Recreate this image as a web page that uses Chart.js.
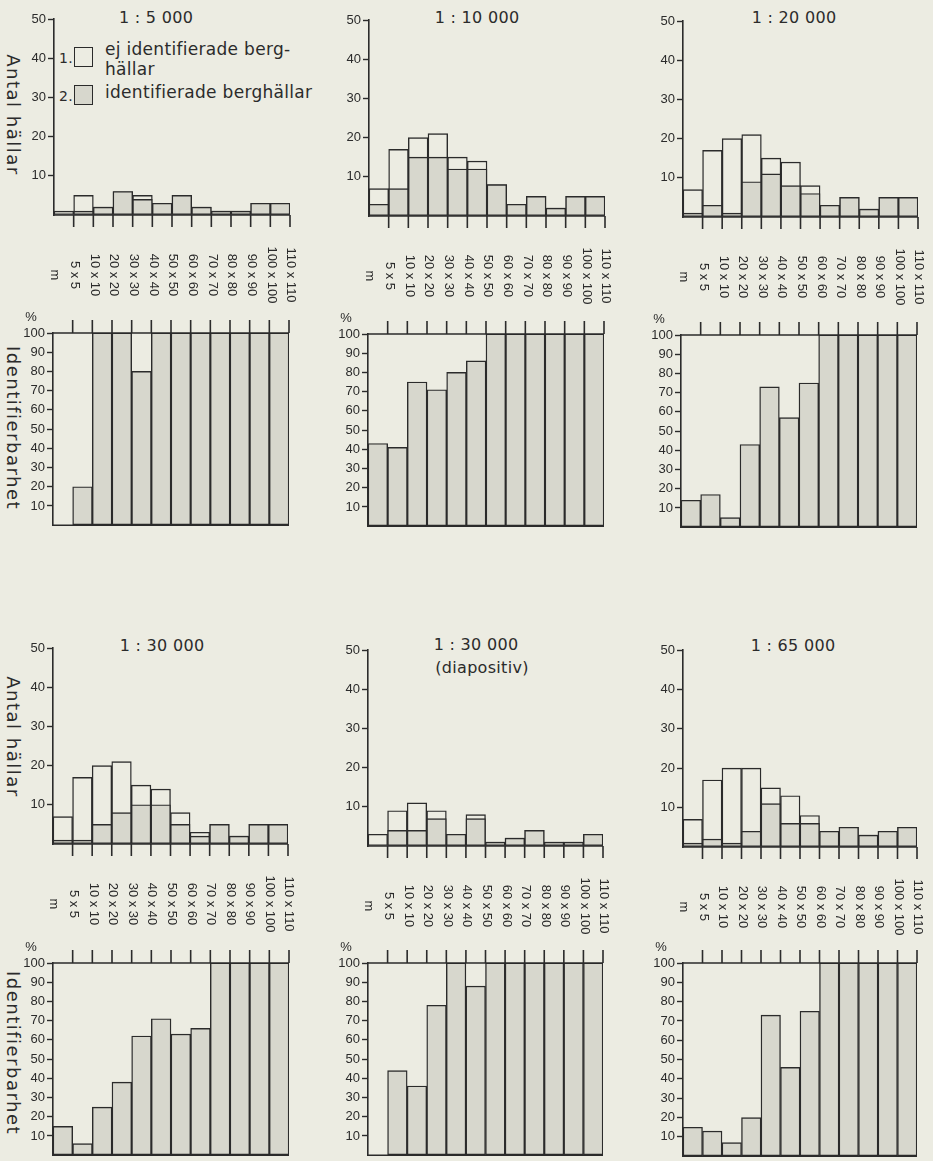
<!DOCTYPE html>
<html>
<head>
<meta charset="utf-8">
<script src="https://cdn.jsdelivr.net/npm/chart.js@4.4.0/dist/chart.umd.min.js"></script>
<style>
html,body{margin:0;padding:0;background:#ecece2;}
body{width:933px;height:1161px;position:relative;overflow:hidden;font-family:"DejaVu Sans",sans-serif;color:#2b2b2b;}
canvas{position:absolute;}
.t{position:absolute;white-space:nowrap;font-size:16px;line-height:1;transform:translate(-50%,-50%);letter-spacing:0.3px;}
.v{position:absolute;white-space:nowrap;writing-mode:vertical-rl;font-size:18px;line-height:1;letter-spacing:1.5px;transform:translate(-50%,-50%);}
.lg{position:absolute;white-space:nowrap;font-size:17px;line-height:1;letter-spacing:0.3px;}
.box{position:absolute;width:17px;height:18px;border:1.6px solid #2b2b2b;}
</style>
</head>
<body>
<div class="t" style="left:156px;top:18px">1 : 5 000</div>
<div class="t" style="left:477px;top:18px">1 : 10 000</div>
<div class="t" style="left:794px;top:18px">1 : 20 000</div>
<div class="t" style="left:162px;top:646px">1 : 30 000</div>
<div class="t" style="left:476px;top:645px">1 : 30 000</div>
<div class="t" style="left:482px;top:668px">(diapositiv)</div>
<div class="t" style="left:793px;top:646px">1 : 65 000</div>

<div class="v" style="left:13px;top:115px">Antal hällar</div>
<div class="v" style="left:13px;top:428px">Identifierbarhet</div>
<div class="v" style="left:13px;top:737px">Antal hällar</div>
<div class="v" style="left:13px;top:1053px">Identifierbarhet</div>

<div class="lg" style="left:59px;top:51px;font-size:14px">1.</div>
<div class="box" style="left:74px;top:47px;background:#ecece2"></div>
<div class="lg" style="left:105px;top:41px">ej identifierade berg-</div>
<div class="lg" style="left:105px;top:61px">hällar</div>
<div class="lg" style="left:59px;top:89px;font-size:14px">2.</div>
<div class="box" style="left:74px;top:85px;background:#d7d7cd"></div>
<div class="lg" style="left:105px;top:84px">identifierade berghällar</div>

<script>
// ---- data ----
const binLabels = ['<5','5-10','10-20','20-30','30-40','40-50','50-60','60-70','70-80','80-90','90-100','100-110'];
const boundaryLabels = ['m','5 x 5','10 x 10','20 x 20','30 x 30','40 x 40','50 x 50','60 x 60','70 x 70','80 x 80','90 x 90','100 x 100','110 x 110'];
const countMax = 50;
const pctMax = 100;

const total5000  = [1,5,2,6,5,3,5,2,1,1,3,3];
const ident5000  = [0,1,2,6,4,3,5,2,1,1,3,3];
const pct5000    = [0,20,100,100,80,100,100,100,100,100,100,100];

const total10000 = [7,17,20,21,15,14,8,3,5,2,5,5];
const ident10000 = [3,7,15,15,12,12,8,3,5,2,5,5];
const pct10000   = [43,41,75,71,80,86,100,100,100,100,100,100];

const total20000 = [7,17,20,21,15,14,8,3,5,2,5,5];
const ident20000 = [1,3,1,9,11,8,6,3,5,2,5,5];
const pct20000   = [14,17,5,43,73,57,75,100,100,100,100,100];

const total30000 = [7,17,20,21,15,14,8,3,5,2,5,5];
const ident30000 = [1,1,5,8,10,10,5,2,5,2,5,5];
const pct30000   = [15,6,25,38,62,71,63,66,100,100,100,100];

const total30000d = [3,9,11,9,3,8,1,2,4,1,1,3];
const ident30000d = [0,4,4,7,3,7,1,2,4,1,1,3];
const pct30000d   = [0,44,36,78,100,88,100,100,100,100,100,100];

const total65000 = [7,17,20,20,15,13,8,4,5,3,4,5];
const ident65000 = [1,2,1,4,11,6,6,4,5,3,4,5];
const pct65000   = [15,13,7,20,73,46,75,100,100,100,100,100];

// ---- style ----
const INK = '#2b2b2b', PAPER = '#ecece2', SHADE = '#d7d7cd';
const LW = 1.6;
const TICKFONT = {family: '"Liberation Sans", Arial, sans-serif', size: 13};

function boundaryX(xs, i) {
  const n = binLabels.length;
  const w = xs.getPixelForValue(1) - xs.getPixelForValue(0);
  return i < n ? xs.getPixelForValue(i) - w / 2 : xs.getPixelForValue(n - 1) + w / 2;
}

const countAxisPlugin = {
  id: 'countAxis',
  afterDatasetsDraw(chart) {
    const {ctx} = chart; const x = chart.scales.x, y = chart.scales.y;
    const y0 = y.getPixelForValue(0);
    ctx.save();
    ctx.strokeStyle = INK; ctx.lineWidth = LW;
    ctx.beginPath();
    ctx.moveTo(x.left, y0); ctx.lineTo(x.right, y0);
    for (let i = 1; i <= binLabels.length; i++) {
      const bx = boundaryX(x, i);
      ctx.moveTo(bx, y0); ctx.lineTo(bx, y0 + 12);
    }
    ctx.stroke();
    ctx.fillStyle = INK;
    ctx.font = '13px "Liberation Sans", Arial, sans-serif';
    ctx.textAlign = 'center'; ctx.textBaseline = 'middle';
    boundaryLabels.forEach((lab, i) => {
      const bx = boundaryX(x, i);
      ctx.save(); ctx.translate(bx + 1, y0 + 60); ctx.rotate(Math.PI / 2); ctx.fillText(lab, 0, 0); ctx.restore();
    });
    ctx.restore();
  }
};

const pctAxisPlugin = {
  id: 'pctAxis',
  afterDatasetsDraw(chart) {
    const {ctx} = chart; const x = chart.scales.x, y = chart.scales.y;
    const yTop = y.getPixelForValue(pctMax), y0 = y.getPixelForValue(0);
    ctx.save();
    ctx.strokeStyle = INK; ctx.lineWidth = LW;
    ctx.beginPath();
    ctx.moveTo(x.left, yTop); ctx.lineTo(x.right, yTop);
    ctx.moveTo(x.left, y0); ctx.lineTo(x.right, y0);
    for (let i = 1; i <= binLabels.length; i++) {
      const bx = boundaryX(x, i);
      ctx.moveTo(bx, yTop); ctx.lineTo(bx, yTop - 13);
    }
    ctx.stroke();
    ctx.fillStyle = INK;
    ctx.font = '13px "Liberation Sans", Arial, sans-serif';
    ctx.textAlign = 'center'; ctx.textBaseline = 'middle';
    ctx.fillText('%', x.left - 22, yTop - 16);
    ctx.restore();
  }
};

function barDs(label, data, fill) {
  return {label, data, backgroundColor: fill, borderColor: INK, borderWidth: 1.4,
          borderSkipped: false, grouped: false, barPercentage: 1, categoryPercentage: 1};
}

function makeChart(plot, pad, datasets, yMax, plugin) {
  const c = document.createElement('canvas');
  const W = Math.round(plot.r - plot.l + pad.l + pad.r);
  const H = Math.round(plot.b - plot.t + pad.t + pad.b);
  c.width = W; c.height = H;
  c.style.width = W + 'px'; c.style.height = H + 'px';
  c.style.left = (plot.l - pad.l) + 'px';
  c.style.top = (plot.t - pad.t) + 'px';
  document.body.appendChild(c);
  return new Chart(c, {
    type: 'bar',
    data: {labels: binLabels, datasets},
    options: {
      responsive: false, animation: false, devicePixelRatio: 1, events: [],
      layout: {padding: {left: 0, right: pad.r, top: pad.t, bottom: pad.b}},
      plugins: {legend: {display: false}, tooltip: {enabled: false}, title: {display: false}},
      scales: {
        x: {display: false, offset: true, ticks: {autoSkip: false}},
        y: {
          min: 0, max: yMax, position: 'left',
          border: {display: true, color: INK, width: LW},
          grid: {drawOnChartArea: false, drawTicks: true, tickLength: 6, tickWidth: 1.4,
                 tickColor: ctx => (ctx.tick && ctx.tick.value === 0) ? 'rgba(0,0,0,0)' : INK},
          ticks: {stepSize: 10, padding: 2, color: INK, font: TICKFONT,
                  callback: v => v === 0 ? '' : v},
          afterFit: s => { s.width = pad.l; }
        }
      }
    },
    plugins: [plugin]
  });
}

const countPad = {l: 50, r: 10, t: 14, b: 95};
const pctPad = {l: 50, r: 10, t: 30, b: 6};

const panels = [
  {total: total5000,  ident: ident5000,  pct: pct5000,  cp: {l:54, r:290, t:19, b:215},  pp: {l:53, r:289, t:333, b:529}},
  {total: total10000, ident: ident10000, pct: pct10000, cp: {l:369, r:605, t:20, b:216}, pp: {l:368, r:604, t:334, b:530}},
  {total: total20000, ident: ident20000, pct: pct20000, cp: {l:683, r:918, t:21, b:217}, pp: {l:681, r:917, t:335, b:531}},
  {total: total30000, ident: ident30000, pct: pct30000, cp: {l:53, r:288, t:648, b:844}, pp: {l:53, r:289, t:963, b:1159}},
  {total: total30000d, ident: ident30000d, pct: pct30000d, cp: {l:368, r:603, t:650, b:846}, pp: {l:368, r:603, t:963, b:1159}},
  {total: total65000, ident: ident65000, pct: pct65000, cp: {l:683, r:917, t:650, b:847}, pp: {l:683, r:917, t:963, b:1160}}
];

panels.forEach(p => {
  makeChart(p.cp, countPad, [
    barDs('identifierade berghällar', p.ident, SHADE),
    barDs('alla berghällar (ej identifierade + identifierade)', p.total, PAPER)
  ], countMax, countAxisPlugin);
  makeChart(p.pp, pctPad, [
    barDs('identifierbarhet %', p.pct, SHADE)
  ], pctMax, pctAxisPlugin);
});
</script>
</body>
</html>
